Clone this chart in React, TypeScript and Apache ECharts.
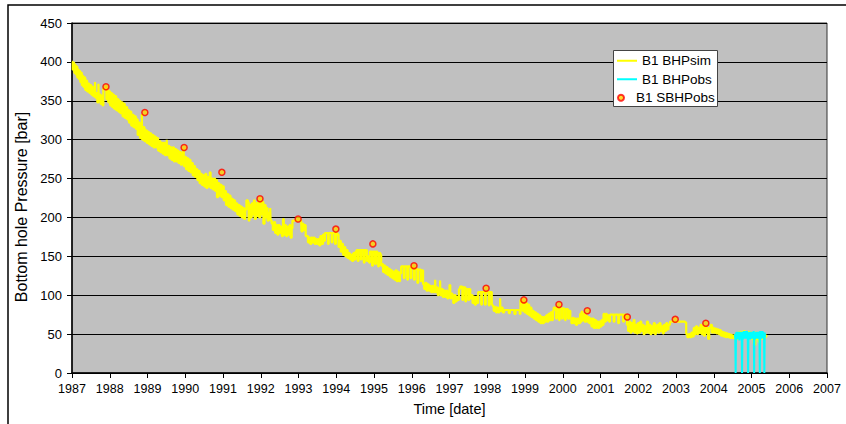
import React, { useEffect, useRef } from "react";
import * as echarts from "echarts";

const FONT = "Liberation Sans, Arial, sans-serif";

const xTickYears = { min: 1987, max: 2007, step: 1 };
const yTicks = { min: 0, max: 450, step: 50 };

const seriesNames = ["B1 BHPsim", "B1 BHPobs", "B1 SBHPobs"];

// B1 BHPsim: [decimal year, bar]
const bhpSim: [number, number][] = [
  [1987.0, 400], [1987.02, 390], [1987.04, 399], [1987.06, 386], [1987.08, 396], [1987.1, 384], [1987.12, 394],
  [1987.14, 380], [1987.16, 390], [1987.18, 378], [1987.2, 388], [1987.22, 374], [1987.24, 386], [1987.26, 370],
  [1987.28, 382], [1987.3, 368], [1987.33, 380], [1987.35, 364], [1987.38, 376], [1987.4, 362], [1987.43, 372],
  [1987.46, 360], [1987.48, 370], [1987.51, 358], [1987.54, 368], [1987.56, 356], [1987.59, 362], [1987.61, 374],
  [1987.62, 354], [1987.65, 360], [1987.67, 348], [1987.7, 372], [1987.71, 350], [1987.74, 358], [1987.76, 346],
  [1987.79, 356], [1987.81, 344], [1987.83, 366], [1987.88, 367], [1987.91, 352], [1987.93, 364], [1987.96, 348],
  [1987.98, 362], [1988.01, 344], [1988.03, 360], [1988.06, 342], [1988.09, 358], [1988.11, 340], [1988.14, 356],
  [1988.17, 338], [1988.2, 352], [1988.23, 336], [1988.26, 350], [1988.28, 334], [1988.31, 348], [1988.34, 330],
  [1988.37, 346], [1988.4, 328], [1988.43, 342], [1988.46, 326], [1988.48, 338], [1988.51, 322], [1988.54, 336],
  [1988.57, 318], [1988.6, 332], [1988.63, 316], [1988.66, 330], [1988.69, 314], [1988.72, 326], [1988.74, 306],
  [1988.77, 322], [1988.8, 302], [1988.83, 318], [1988.85, 333], [1988.86, 300], [1988.89, 316], [1988.92, 298],
  [1988.95, 312], [1988.98, 296], [1989.01, 310], [1989.04, 294], [1989.07, 308], [1989.1, 292], [1989.13, 306],
  [1989.16, 290], [1989.19, 304], [1989.22, 290], [1989.25, 302], [1989.28, 286], [1989.31, 298], [1989.34, 284],
  [1989.37, 296], [1989.4, 282], [1989.43, 296], [1989.46, 280], [1989.49, 294], [1989.51, 300], [1989.52, 280],
  [1989.55, 292], [1989.58, 276], [1989.61, 290], [1989.64, 274], [1989.67, 290], [1989.7, 272], [1989.73, 288],
  [1989.76, 272], [1989.79, 286], [1989.82, 270], [1989.85, 284], [1989.88, 268], [1989.91, 282], [1989.94, 288],
  [1989.96, 266], [1989.99, 278], [1990.02, 262], [1990.05, 276], [1990.08, 260], [1990.11, 274], [1990.14, 258],
  [1990.17, 270], [1990.2, 254], [1990.23, 266], [1990.26, 252], [1990.29, 262], [1990.32, 248], [1990.35, 260],
  [1990.38, 244], [1990.41, 256], [1990.44, 242], [1990.47, 254], [1990.5, 240], [1990.53, 256], [1990.56, 238],
  [1990.59, 252], [1990.62, 240], [1990.65, 258], [1990.67, 238], [1990.7, 250], [1990.73, 236], [1990.76, 250],
  [1990.79, 234], [1990.82, 248], [1990.84, 226], [1990.87, 244], [1990.9, 228], [1990.93, 242], [1990.96, 226],
  [1990.99, 240], [1991.02, 222], [1991.05, 234], [1991.08, 216], [1991.11, 230], [1991.14, 214], [1991.17, 228],
  [1991.2, 212], [1991.23, 224], [1991.26, 210], [1991.29, 222], [1991.32, 208], [1991.35, 218], [1991.38, 204],
  [1991.41, 216], [1991.44, 202], [1991.47, 214], [1991.5, 200], [1991.53, 212], [1991.56, 198], [1991.59, 210],
  [1991.62, 222], [1991.66, 220], [1991.68, 196], [1991.7, 216], [1991.73, 200], [1991.76, 218], [1991.79, 204],
  [1991.82, 222], [1991.84, 198], [1991.87, 218], [1991.9, 202], [1991.93, 220], [1991.96, 200], [1991.99, 222],
  [1992.02, 204], [1992.05, 220], [1992.07, 192], [1992.1, 216], [1992.13, 200], [1992.16, 212], [1992.18, 196],
  [1992.21, 206], [1992.25, 212], [1992.26, 196], [1992.29, 192], [1992.32, 184], [1992.35, 194], [1992.38, 180],
  [1992.41, 190], [1992.44, 178], [1992.47, 190], [1992.5, 180], [1992.53, 188], [1992.56, 176], [1992.59, 198],
  [1992.61, 178], [1992.64, 190], [1992.67, 176], [1992.7, 188], [1992.73, 178], [1992.76, 190], [1992.79, 174],
  [1992.82, 186], [1992.84, 196], [1993.0, 196], [1993.07, 195], [1993.08, 182], [1993.11, 192], [1993.13, 184],
  [1993.16, 190], [1993.19, 176], [1993.22, 176], [1993.25, 168], [1993.28, 174], [1993.31, 166], [1993.34, 174],
  [1993.37, 168], [1993.4, 174], [1993.43, 166], [1993.46, 172], [1993.49, 166], [1993.52, 172], [1993.55, 164],
  [1993.58, 176], [1993.62, 166], [1993.65, 178], [1993.68, 170], [1993.7, 180], [1993.76, 180], [1993.78, 166],
  [1993.8, 180], [1993.86, 180], [1993.88, 168], [1993.9, 180], [1993.95, 180], [1993.97, 166], [1993.99, 180],
  [1994.03, 178], [1994.06, 162], [1994.09, 170], [1994.12, 156], [1994.15, 166], [1994.18, 152], [1994.21, 162],
  [1994.24, 150], [1994.27, 158], [1994.3, 148], [1994.33, 154], [1994.36, 146], [1994.39, 152], [1994.42, 144],
  [1994.45, 154], [1994.48, 146], [1994.51, 156], [1994.54, 158], [1994.57, 144], [1994.59, 158], [1994.63, 158],
  [1994.65, 146], [1994.67, 158], [1994.71, 158], [1994.73, 142], [1994.75, 158], [1994.79, 158], [1994.81, 144],
  [1994.84, 150], [1994.87, 142], [1994.89, 156], [1994.93, 156], [1994.95, 138], [1994.97, 156], [1995.01, 156],
  [1995.03, 140], [1995.05, 156], [1995.09, 154], [1995.11, 137], [1995.13, 154], [1995.17, 152], [1995.19, 138],
  [1995.21, 140], [1995.24, 130], [1995.27, 138], [1995.3, 128], [1995.33, 136], [1995.36, 126], [1995.39, 134],
  [1995.42, 124], [1995.45, 132], [1995.48, 122], [1995.51, 130], [1995.54, 120], [1995.57, 132], [1995.6, 118],
  [1995.63, 130], [1995.66, 118], [1995.69, 128], [1995.72, 137], [1995.77, 137], [1995.79, 122], [1995.81, 137],
  [1995.86, 137], [1995.88, 120], [1995.9, 137], [1995.95, 136], [1995.97, 122], [1995.99, 136], [1996.04, 135],
  [1996.06, 120], [1996.08, 134], [1996.13, 134], [1996.15, 116], [1996.17, 133], [1996.22, 133], [1996.24, 118],
  [1996.26, 132], [1996.3, 114], [1996.33, 108], [1996.36, 116], [1996.39, 106], [1996.42, 114], [1996.45, 106],
  [1996.48, 112], [1996.51, 104], [1996.54, 112], [1996.57, 104], [1996.6, 110], [1996.62, 120], [1996.63, 104],
  [1996.66, 110], [1996.69, 100], [1996.72, 108], [1996.75, 119], [1996.76, 100], [1996.79, 108], [1996.82, 98],
  [1996.85, 106], [1996.88, 98], [1996.91, 106], [1996.94, 96], [1996.97, 104], [1997.0, 113], [1997.02, 96],
  [1997.05, 102], [1997.08, 96], [1997.1, 90], [1997.13, 100], [1997.16, 92], [1997.19, 98], [1997.22, 94],
  [1997.25, 108], [1997.28, 111], [1997.32, 111], [1997.34, 94], [1997.36, 110], [1997.4, 110], [1997.42, 92],
  [1997.44, 108], [1997.48, 108], [1997.5, 94], [1997.52, 108], [1997.55, 96], [1997.58, 100], [1997.61, 90],
  [1997.64, 98], [1997.67, 88], [1997.7, 98], [1997.73, 90], [1997.76, 104], [1997.82, 104], [1997.84, 88],
  [1997.86, 104], [1997.92, 104], [1997.94, 88], [1997.96, 104], [1998.02, 104], [1998.04, 87], [1998.06, 104],
  [1998.1, 104], [1998.12, 88], [1998.14, 86], [1998.17, 80], [1998.2, 85], [1998.23, 78], [1998.26, 84],
  [1998.29, 78], [1998.32, 82], [1998.34, 96], [1998.35, 80], [1998.38, 84], [1998.41, 78], [1998.45, 81],
  [1998.55, 81], [1998.57, 77], [1998.6, 81], [1998.7, 81], [1998.72, 76], [1998.75, 81], [1998.84, 80],
  [1998.86, 76], [1998.88, 94], [1998.92, 93], [1998.94, 80], [1998.96, 92], [1998.99, 78], [1999.02, 90],
  [1999.05, 76], [1999.08, 88], [1999.11, 74], [1999.14, 84], [1999.17, 72], [1999.2, 80], [1999.23, 70],
  [1999.26, 78], [1999.29, 68], [1999.32, 76], [1999.35, 66], [1999.38, 74], [1999.41, 64], [1999.44, 72],
  [1999.47, 64], [1999.5, 72], [1999.53, 66], [1999.56, 74], [1999.59, 66], [1999.62, 76], [1999.65, 68],
  [1999.68, 78], [1999.71, 68], [1999.74, 80], [1999.76, 84], [1999.8, 84], [1999.82, 70], [1999.84, 84],
  [1999.88, 84], [1999.9, 68], [1999.92, 84], [1999.96, 83], [1999.98, 70], [2000.0, 83], [2000.04, 82],
  [2000.06, 68], [2000.08, 82], [2000.12, 82], [2000.14, 70], [2000.17, 80], [2000.2, 70], [2000.23, 64],
  [2000.26, 71], [2000.29, 64], [2000.32, 70], [2000.35, 62], [2000.38, 70], [2000.42, 64], [2000.46, 76],
  [2000.48, 66], [2000.5, 79], [2000.52, 68], [2000.55, 76], [2000.58, 66], [2000.61, 74], [2000.64, 66],
  [2000.67, 72], [2000.7, 64], [2000.73, 70], [2000.76, 60], [2000.79, 70], [2000.82, 58], [2000.85, 68],
  [2000.88, 58], [2000.91, 66], [2000.94, 58], [2000.97, 66], [2001.0, 60], [2001.03, 68], [2001.06, 62],
  [2001.08, 76], [2001.11, 66], [2001.14, 76], [2001.17, 68], [2001.2, 74], [2001.23, 66], [2001.25, 75],
  [2001.33, 75], [2001.35, 66], [2001.37, 75], [2001.45, 75], [2001.47, 64], [2001.49, 75], [2001.58, 75],
  [2001.6, 66], [2001.62, 75], [2001.68, 74], [2001.7, 62], [2001.73, 54], [2001.76, 66], [2001.79, 52],
  [2001.82, 64], [2001.85, 54], [2001.88, 68], [2001.9, 52], [2001.93, 62], [2001.96, 51], [2001.99, 64],
  [2002.02, 52], [2002.05, 66], [2002.08, 54], [2002.11, 62], [2002.14, 50], [2002.17, 60], [2002.2, 52],
  [2002.23, 66], [2002.26, 52], [2002.29, 62], [2002.32, 50], [2002.35, 60], [2002.38, 52], [2002.41, 64],
  [2002.44, 50], [2002.47, 58], [2002.5, 62], [2002.53, 52], [2002.56, 64], [2002.59, 54], [2002.62, 60],
  [2002.65, 51], [2002.68, 62], [2002.71, 54], [2002.74, 64], [2002.77, 56], [2002.8, 62], [2002.84, 66],
  [2002.95, 66], [2003.05, 66], [2003.15, 66], [2003.24, 65], [2003.27, 50], [2003.3, 46], [2003.34, 50],
  [2003.37, 46], [2003.41, 52], [2003.44, 47], [2003.47, 58], [2003.5, 50], [2003.53, 60], [2003.56, 50],
  [2003.59, 58], [2003.62, 52], [2003.65, 62], [2003.68, 50], [2003.71, 60], [2003.74, 48], [2003.77, 60],
  [2003.8, 52], [2003.83, 58], [2003.85, 44], [2003.88, 58], [2003.92, 62], [2003.95, 52], [2003.98, 58],
  [2004.01, 52], [2004.04, 57], [2004.07, 51], [2004.1, 56], [2004.13, 50], [2004.16, 55], [2004.19, 48],
  [2004.22, 53], [2004.25, 47], [2004.28, 52], [2004.31, 46], [2004.34, 51], [2004.37, 46], [2004.4, 50],
  [2004.43, 45], [2004.46, 49], [2004.49, 45], [2004.52, 48], [2004.55, 44], [2004.58, 50], [2004.61, 44],
  [2004.64, 52], [2004.67, 46], [2004.7, 53], [2004.73, 44], [2004.76, 50], [2004.79, 54], [2004.82, 46],
  [2004.85, 52], [2004.88, 47], [2004.91, 53], [2004.94, 45], [2004.97, 52], [2005.0, 44], [2005.03, 50],
  [2005.06, 38], [2005.08, 36], [2005.1, 52], [2005.13, 44], [2005.16, 50], [2005.19, 40], [2005.22, 48],
  [2005.25, 52], [2005.28, 44], [2005.31, 50], [2005.34, 46], [2005.38, 48], [2005.4, 47],
];

// B1 BHPobs: [decimal year, bar]
const bhpObs: [number, number][] = [
  [2004.56, 50], [2004.57, 44], [2004.58, 0], [2004.59, 52], [2004.6, 44], [2004.61, 53], [2004.62, 43],
  [2004.63, 52], [2004.64, 45], [2004.65, 53], [2004.66, 44], [2004.67, 52], [2004.68, 42], [2004.69, 53],
  [2004.7, 45], [2004.71, 52], [2004.72, 44], [2004.73, 53], [2004.74, 46], [2004.75, 0], [2004.76, 51],
  [2004.77, 43], [2004.78, 53], [2004.79, 45], [2004.8, 54], [2004.81, 44], [2004.82, 53], [2004.83, 46],
  [2004.84, 54], [2004.85, 44], [2004.86, 53], [2004.87, 45], [2004.88, 54], [2004.89, 44], [2004.9, 52],
  [2004.91, 0], [2004.92, 52], [2004.93, 44], [2004.94, 53], [2004.95, 45], [2004.96, 52], [2004.97, 43],
  [2004.98, 53], [2004.99, 44], [2005.0, 52], [2005.01, 45], [2005.02, 53], [2005.03, 44], [2005.04, 52],
  [2005.05, 46], [2005.06, 54], [2005.07, 0], [2005.08, 51], [2005.09, 43], [2005.1, 52], [2005.11, 44],
  [2005.12, 53], [2005.13, 45], [2005.14, 52], [2005.15, 44], [2005.16, 53], [2005.17, 46], [2005.18, 52],
  [2005.19, 44], [2005.2, 53], [2005.21, 46], [2005.22, 0], [2005.23, 54], [2005.24, 45], [2005.25, 53],
  [2005.26, 44], [2005.27, 54], [2005.28, 45], [2005.29, 54], [2005.3, 46], [2005.31, 53], [2005.32, 44],
  [2005.33, 52], [2005.34, 0], [2005.35, 52], [2005.36, 46],
];

// B1 SBHPobs: [decimal year, bar]
const sbhpObs: [number, number][] = [
  [1987.9, 368], [1988.93, 335], [1989.97, 290], [1990.97, 258], [1991.98, 224], [1992.99, 198],
  [1993.99, 185], [1994.97, 166], [1996.06, 138], [1997.97, 109], [1998.97, 94], [1999.9, 88],
  [2000.65, 80], [2001.71, 72], [2002.98, 69], [2003.79, 64],
];

export default function App() {
  const ref = useRef<HTMLDivElement>(null);

  useEffect(() => {
    if (!ref.current) return;
    const chart = echarts.init(ref.current, undefined, { renderer: "svg" });
    const legendText = { fontSize: 13.5, color: "#000", fontFamily: FONT, lineHeight: 18.5 };
    chart.setOption({
      animation: false,
      backgroundColor: "#fff",
      textStyle: { fontFamily: FONT },
      grid: {
        left: 72,
        top: 23,
        right: 19,
        bottom: 51,
        show: true,
        backgroundColor: "#C0C0C0",
        borderColor: "#333",
        borderWidth: 1,
      },
      xAxis: {
        type: "value",
        min: xTickYears.min,
        max: xTickYears.max,
        interval: xTickYears.step,
        name: "Time [date]",
        nameLocation: "middle",
        nameGap: 28,
        nameTextStyle: { fontSize: 14.5, color: "#000", fontFamily: FONT },
        axisLine: { show: true, onZero: false, lineStyle: { color: "#000", width: 1.5 } },
        axisTick: { show: true, inside: false, length: 5, lineStyle: { color: "#000" } },
        axisLabel: {
          margin: 9,
          fontSize: 12.5,
          color: "#000",
          fontFamily: FONT,
          formatter: (v: number) => String(v),
        },
        splitLine: { show: false },
      },
      yAxis: {
        type: "value",
        min: yTicks.min,
        max: yTicks.max,
        interval: yTicks.step,
        name: "Bottom hole Pressure [bar]",
        nameLocation: "middle",
        nameGap: 42,
        nameTextStyle: { fontSize: 16, color: "#000", fontFamily: FONT, padding: [0, 18, 0, 0] },
        axisLine: { show: true, lineStyle: { color: "#000", width: 1.5 } },
        axisTick: { show: true, inside: false, length: 5, lineStyle: { color: "#000" } },
        axisLabel: { margin: 10, fontSize: 13, color: "#000", fontFamily: FONT },
        splitLine: { show: true, lineStyle: { color: "#000", width: 1 } },
      },
      legend: [
        {
          data: [seriesNames[0], seriesNames[1]],
          orient: "vertical",
          left: 617,
          top: 51.5,
          padding: 0,
          itemGap: 0,
          icon: "rect",
          itemWidth: 20,
          itemHeight: 2,
          selectedMode: false,
          textStyle: legendText,
          z: 5,
        },
        {
          data: [seriesNames[2]],
          orient: "vertical",
          left: 617,
          top: 88.5,
          padding: 0,
          icon: "circle",
          itemWidth: 20,
          itemHeight: 6,
          selectedMode: false,
          textStyle: legendText,
          z: 5,
        },
      ],
      graphic: [
        {
          type: "rect",
          shape: { x: 8, y: 5, width: 850, height: 430 },
          style: { fill: "none", stroke: "#000", lineWidth: 1.5 },
          silent: true,
          z: 1,
        },
        {
          type: "rect",
          shape: { x: 613.5, y: 50.5, width: 104, height: 56 },
          style: { fill: "#fff", stroke: "#444", lineWidth: 1 },
          silent: true,
          z: 3,
        },
      ],
      series: [
        {
          name: seriesNames[0],
          type: "line",
          data: bhpSim,
          symbol: "none",
          step: "end",
          color: "#FFFF00",
          lineStyle: { color: "#FFFF00", width: 2.2 },
          z: 2,
        },
        {
          name: seriesNames[1],
          type: "line",
          data: bhpObs,
          symbol: "none",
          color: "#00FFFF",
          lineStyle: { color: "#00FFFF", width: 2 },
          z: 2,
        },
        {
          name: seriesNames[2],
          type: "scatter",
          data: sbhpObs,
          symbol: "circle",
          symbolSize: 6,
          itemStyle: { color: "#FFD200", borderColor: "#FF0000", borderWidth: 1.5 },
          z: 2,
        },
      ],
    });
    return () => chart.dispose();
  }, []);

  return (
    <div
      ref={ref}
      style={{ position: "absolute", left: 0, top: 0, width: 846, height: 424 }}
    />
  );
}
